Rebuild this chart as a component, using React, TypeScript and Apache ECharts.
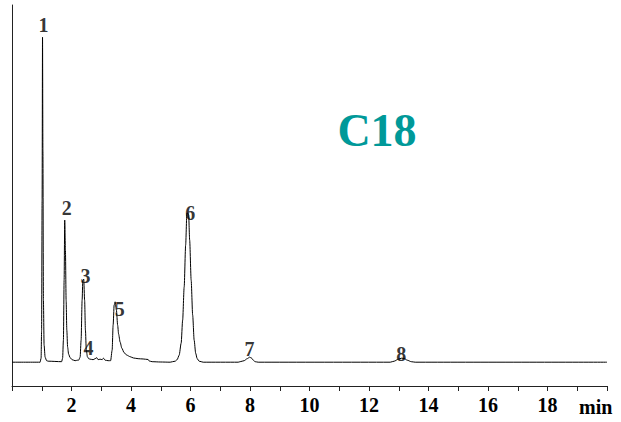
import React, { useEffect, useRef } from "react";
import * as echarts from "echarts";

// Detector trace: retention time (min) and signal (arbitrary units above baseline)
const retentionTime: number[] = [
  0, 0.945, 0.978, 0.995, 1.012, 1.026, 1.039, 1.056, 1.079, 1.113, 1.163, 1.214,
  1.668, 1.701, 1.728, 1.752, 1.772, 1.796, 1.819, 1.843, 1.87, 1.903, 1.954, 2.021,
  2.122, 2.206, 2.239, 2.29, 2.323, 2.357, 2.381, 2.411, 2.441, 2.468, 2.498, 2.535,
  2.576, 2.626, 2.727, 2.794, 2.851, 2.895, 2.962, 3.03, 3.073, 3.13, 3.231, 3.315,
  3.366, 3.399, 3.433, 3.467, 3.51, 3.551, 3.584, 3.635, 3.692, 3.769, 3.86, 3.971,
  4.082, 4.24, 4.408, 4.576, 4.61, 4.711, 4.98, 5.316, 5.484, 5.551, 5.619, 5.686,
  5.736, 5.787, 5.837, 5.878, 5.905, 5.938, 5.972, 6.022, 6.073, 6.123, 6.174, 6.224,
  6.291, 6.426, 7.603, 7.67, 7.804, 7.905, 7.989, 8.056, 8.107, 8.174, 8.275,
  12.714, 12.848, 12.983, 13.1, 13.184, 13.285, 13.42, 13.554, 20,
];
const signal: number[] = [
  0, 0, 1.68, 13.45, 68.1, 136.49, 89.11, 26.06, 7.15, 2.1, 0.63, 0.42,
  0.21, 1.68, 9.25, 34.47, 59.69, 47.08, 26.06, 13.45, 6.31, 3.36, 1.89, 1.05,
  0.63, 0.84, 0.84, 2.1, 9.25, 26.06, 34.47, 34.89, 26.06, 13.45, 5.04, 2.31,
  1.47, 1.26, 1.05, 1.47, 1.89, 1.05, 1.26, 1.05, 1.68, 0.84, 0.63, 0.63,
  5.04, 15.55, 23.96, 25.35, 21.86, 15.55, 11.77, 8.41, 5.88, 3.99, 2.94, 2.31,
  1.77, 1.47, 1.35, 1.13, 0.5, 0.21, 0.08, 0, 0.42, 1.05, 2.94, 7.99,
  17.65, 31.53, 49.18, 62.51, 62.63, 61.79, 51.28, 34.47, 19.76, 9.25, 3.78, 1.47,
  0.42, 0, 0, 0.21, 0.63, 1.47, 2.1, 1.68, 0.84, 0.21, 0,
  0, 0.42, 1.26, 1.68, 1.56, 0.84, 0.21, 0, 0,
];

// Peak numbering, placed beside each peak apex
const peakNames: string[] = ["1", "2", "3", "4", "5", "6", "7", "8"];
const peakLabelTime: number[] = [1.056, 1.843, 2.468, 2.569, 3.618, 5.995, 7.982, 13.083];
const peakLabelSignal: number[] = [141.45, 64.94, 36.23, 6.1, 22.36, 62.51, 5.46, 3.36];

const xTickLabels: number[] = [2, 4, 6, 8, 10, 12, 14, 16, 18];
const columnName = "C18";
const timeUnit = "min";

const SERIF = '"Liberation Serif", "Times New Roman", serif';

export default function App() {
  const ref = useRef<HTMLDivElement>(null);

  useEffect(() => {
    if (!ref.current) return;
    const chart = echarts.init(ref.current, null, { renderer: "svg" });

    const trace = retentionTime.map((t, i) => [t, signal[i]]);
    const labels = peakNames.map((n, i) => ({
      name: n,
      value: [peakLabelTime[i], peakLabelSignal[i]],
    }));

    chart.setOption({
      animation: false,
      backgroundColor: "#ffffff",
      grid: { left: 12, right: 14, top: 5, bottom: 36, containLabel: false },
      xAxis: {
        type: "value",
        min: 0,
        max: 20,
        interval: 1,
        axisLine: { show: true, onZero: false, lineStyle: { color: "#222", width: 1 } },
        axisTick: { show: true, inside: false, length: 5, lineStyle: { color: "#222", width: 1 } },
        splitLine: { show: false },
        axisLabel: {
          show: true,
          margin: 9,
          fontFamily: SERIF,
          fontWeight: "bold",
          fontSize: 20,
          color: "#000",
          formatter: (v: number) => (xTickLabels.includes(v) ? String(v) : ""),
        },
      },
      yAxis: {
        type: "value",
        min: -10,
        max: 150,
        axisLine: { show: true, onZero: false, lineStyle: { color: "#222", width: 1 } },
        axisTick: { show: false },
        axisLabel: { show: false },
        splitLine: { show: false },
      },
      series: [
        {
          type: "line",
          data: trace,
          showSymbol: false,
          smooth: 0.25,
          smoothMonotone: "x",
          lineStyle: { color: "#000", width: 1 },
          z: 2,
        },
        {
          type: "scatter",
          data: labels,
          symbolSize: 1,
          itemStyle: { color: "rgba(0,0,0,0)" },
          label: {
            show: true,
            position: "inside",
            formatter: "{b}",
            fontFamily: SERIF,
            fontWeight: "bold",
            fontSize: 20,
            color: "#000",
          },
          z: 3,
        },
      ],
      graphic: [
        {
          type: "text",
          left: 579,
          top: 397,
          style: {
            text: timeUnit,
            fontFamily: SERIF,
            fontWeight: "bold",
            fontSize: 20,
            fill: "#000",
          },
        },
        {
          type: "text",
          x: 377,
          y: 130,
          style: {
            text: columnName,
            fontFamily: SERIF,
            fontWeight: "bold",
            fontSize: 46,
            fill: "#009999",
            align: "center",
            verticalAlign: "middle",
          },
        },
      ],
    });

    return () => chart.dispose();
  }, []);

  return (
    <div
      ref={ref}
      style={{ position: "fixed", left: 0, top: 0, width: 621, height: 422 }}
    />
  );
}
